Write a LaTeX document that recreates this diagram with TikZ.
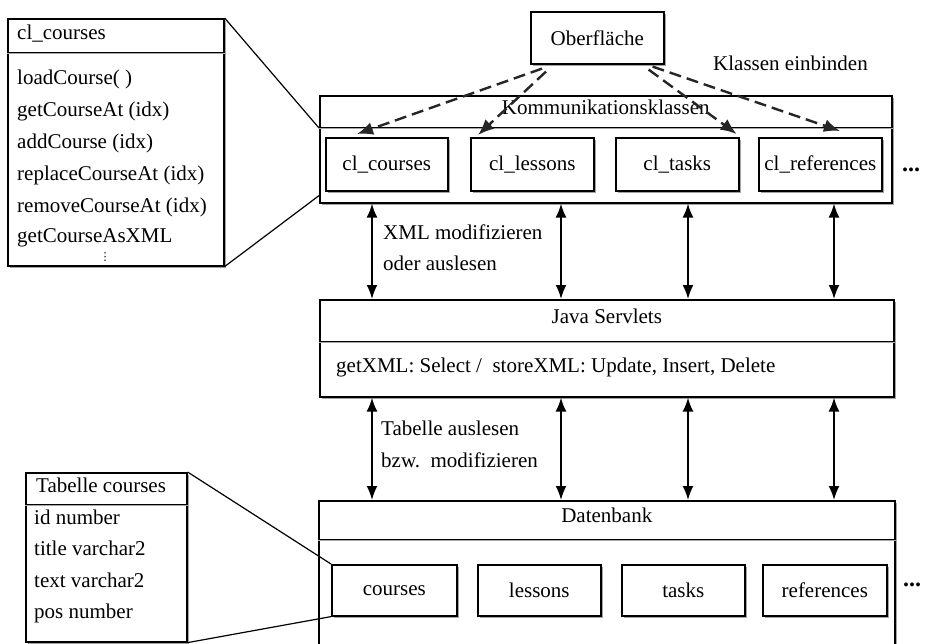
\documentclass[tikz,border=0pt]{standalone}
\usepackage{fontspec}
\setmainfont{Liberation Serif}
\newfontfamily\symfont{DejaVu Sans}
\usetikzlibrary{arrows.meta,calc,shadows}
\begin{document}
\begin{tikzpicture}[x=1pt,y=-1pt,
  font=\fontsize{21}{26}\selectfont,
  box/.style={draw=black, line width=1.6pt, fill=white, inner sep=0pt,
    anchor=north west,
    drop shadow={shadow xshift=1.8pt, shadow yshift=-1.8pt, fill=black!60, opacity=0.6}},
  txt/.style={inner sep=0pt, text height=0.68em, text depth=0.12em},
  headline/.style={draw=black, line width=1pt, double=black!35, double distance=0.6pt},
  link/.style={line width=1.2pt},
  biarrow/.style={line width=1.8pt, {Latex[length=14pt,width=11pt]}-{Latex[length=14pt,width=11pt]}},
  dasharrow/.style={line width=2.4pt, draw=black!85, dash pattern=on 12pt off 6pt,
    -{Latex[length=16pt,width=13pt]}},
  dots/.style={inner sep=0pt, font=\fontsize{24}{26}\selectfont\bfseries}
]
\useasboundingbox (0,0) rectangle (925,643);
\clip (0,0) rectangle (925,643);

% ---- class detail: cl_courses ----
\node[box, minimum width=216, minimum height=247] (det) at (7,18) {};
\draw[headline] ($(det.north west)+(0,35)$) -- ($(det.north east)+(0,35)$);
\node[txt, anchor=west] (detT) at (17,37) {cl\_courses};
\node[txt, anchor=west] (m1) at (17,82) {loadCourse( )};
\node[txt, anchor=west] (m2) at (17,114) {getCourseAt (idx)};
\node[txt, anchor=west] (m3) at (17,146) {addCourse (idx)};
\node[txt, anchor=west] (m4) at (17,178) {replaceCourseAt (idx)};
\node[txt, anchor=west] (m5) at (17,210) {removeCourseAt (idx)};
\node[txt, anchor=west] (m6) at (17,240) {getCourseAsXML};
\node[inner sep=0pt] (vd) at (105,257) {\symfont\fontsize{11}{11}\selectfont ⋮};

% ---- user interface ----
\node[box, minimum width=133, minimum height=52] (ob) at (530,11) {Oberfläche};
\node[txt, anchor=west] (einb) at (713,68) {Klassen einbinden};

% ---- communication classes ----
\node[box, minimum width=572, minimum height=107] (komm) at (319,95) {};
\draw[headline] ($(komm.north west)+(0,33)$) -- ($(komm.north east)+(0,33)$);
\node[txt] (kommT) at ($(komm.north)+(0,17)$) {Kommunikationsklassen};
\node[box, minimum width=122, minimum height=53] (c1) at (325,137) {cl\_courses};
\node[box, minimum width=123, minimum height=53] (c2) at (470,137) {cl\_lessons};
\node[box, minimum width=123, minimum height=53] (c3) at (615,137) {cl\_tasks};
\node[box, minimum width=123, minimum height=53] (c4) at (758,137) {cl\_references};
\node[dots] (more1) at (911,170) {...};

% ---- servlets ----
\node[box, minimum width=574, minimum height=97] (java) at (319,299) {};
\draw[headline] ($(java.north west)+(0,43)$) -- ($(java.north east)+(0,43)$);
\node[txt] (javaT) at ($(java.north)+(0,22)$) {Java Servlets};
\node[txt, anchor=west] (javaM) at (336,370) {getXML: Select /\ \ storeXML: Update, Insert, Delete};

% ---- database ----
\node[box, minimum width=576, minimum height=170] (db) at (318,500) {};
\draw[headline] ($(db.north west)+(0,40)$) -- ($(db.north east)+(0,40)$);
\node[txt] (dbT) at ($(db.north)+(0,20)$) {Datenbank};
\node[box, minimum width=125, minimum height=51] (d1) at (331,564) {courses};
\node[box, minimum width=123, minimum height=51] (d2) at (477,564) {lessons};
\node[box, minimum width=123, minimum height=51] (d3) at (621,564) {tasks};
\node[box, minimum width=124, minimum height=51] (d4) at (762,564) {references};
\node[dots] (more2) at (912,585) {...};

% ---- table detail ----
\node[box, minimum width=161, minimum height=169] (tab) at (25,472) {};
\draw[headline] ($(tab.north west)+(0,33)$) -- ($(tab.north east)+(0,33)$);
\node[txt, anchor=west] (tabT) at (36,490) {Tabelle courses};
\node[txt, anchor=west] (r1) at (34,522) {id number};
\node[txt, anchor=west] (r2) at (34,553) {title varchar2};
\node[txt, anchor=west] (r3) at (34,585) {text varchar2};
\node[txt, anchor=west] (r4) at (34,616) {pos number};

% ---- zoom lines ----
\draw[link] (det.north east) -- ($(komm.north west)+(0,33)$);
\draw[link] (det.south east) -- ($(komm.south west)+(0,-8)$);
\draw[link] (tab.north east) -- (d1.north west);
\draw[link] (tab.south east) -- (d1.south west);

% ---- class inclusion ----
\draw[dasharrow] ($(ob.south west)+(12,4)$) -- ($(c1.north west)+(32,-3)$);
\draw[dasharrow] ($(ob.south west)+(16,7)$) -- ($(c2.north west)+(8,-2)$);
\draw[dasharrow] ($(ob.south east)+(-16,5)$) -- ($(c3.north east)+(-3,-3)$);
\draw[dasharrow] ($(ob.south east)+(-12,2)$) -- ($(c4.north west)+(82,-6)$);

% ---- data flow columns ----
\coordinate (colA) at (372,0);
\coordinate (colB) at (561,0);
\coordinate (colC) at (688,0);
\coordinate (colD) at (834,0);
\foreach \c in {colA,colB,colC,colD}{
  \draw[biarrow] (komm.south -| \c) -- (java.north -| \c);
  \draw[biarrow] (java.south -| \c) -- (db.north -| \c);
}
\node[txt, anchor=west] (l1) at (383,237) {XML modifizieren};
\node[txt, anchor=west] (l2) at (383,268) {oder auslesen};
\node[txt, anchor=west] (l3) at (381,433) {Tabelle auslesen};
\node[txt, anchor=west] (l4) at (381,465) {bzw.\ \ modifizieren};
\end{tikzpicture}
\end{document}
